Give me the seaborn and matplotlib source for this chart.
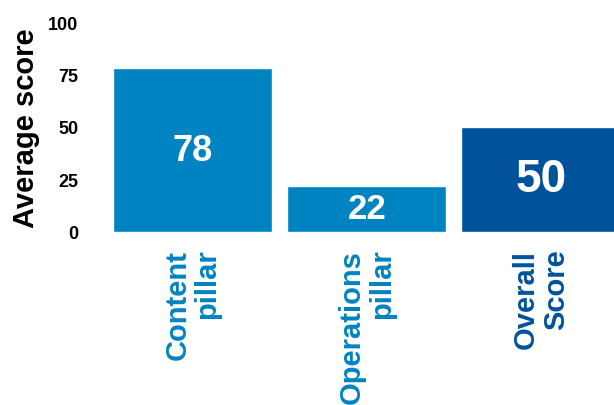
import matplotlib
matplotlib.use("Agg")
import matplotlib.pyplot as plt
import seaborn as sns
import pandas as pd

categories = ["Content\npillar", "Operations\npillar", "Overall\nScore"]
scores = [78, 22, 50]
bar_colors = ["#0083c1", "#0083c1", "#00529b"]
value_sizes = [26, 25, 33]
y_ticks = [0, 25, 50, 75, 100]

sns.set_theme(style="white")
plt.rcParams["font.family"] = ["Liberation Sans", "DejaVu Sans"]
plt.rcParams["text.color"] = "black"
plt.rcParams["axes.labelcolor"] = "black"
plt.rcParams["ytick.color"] = "black"

df = pd.DataFrame({"category": categories, "score": scores})

fig = plt.figure(figsize=(6.14, 4.06), dpi=100)
ax = fig.add_axes([113 / 614, 173 / 406, 501 / 614, 210 / 406])

sns.barplot(data=df, x="category", y="score", hue="category",
            palette=bar_colors, width=0.915, saturation=1,
            legend=False, ax=ax)

ax.set_xlim(-0.4575, 2.42)
ax.set_ylim(0, 100)
ax.set_yticks(y_ticks)
ax.set_yticklabels([str(t) for t in y_ticks], fontsize=13, fontweight="bold",
                   color="black")
ax.tick_params(axis="y", length=0, pad=25)
ax.tick_params(axis="x", length=0, pad=12)

ax.set_xticks(range(len(categories)))
ax.set_xticklabels(categories, rotation=90, fontsize=21, fontweight="bold",
                   ha="center", va="top", multialignment="right",
                   linespacing=1.08)
for lbl, c in zip(ax.get_xticklabels(), bar_colors):
    lbl.set_color(c)

ax.set_xlabel("")
ax.set_ylabel("Average score", fontsize=21, fontweight="bold", labelpad=6,
              color="black")

for i, (v, s) in enumerate(zip(scores, value_sizes)):
    ax.text(i, v / 2, str(v), ha="center", va="center", color="white",
            fontsize=s, fontweight="bold")

for sp in ax.spines.values():
    sp.set_visible(False)

fig.savefig("out.png", dpi=100)
